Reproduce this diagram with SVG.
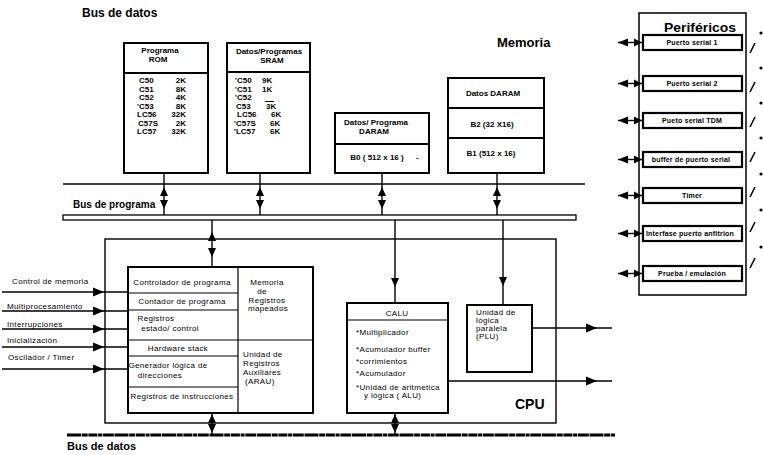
<svg xmlns="http://www.w3.org/2000/svg" width="763" height="455" viewBox="0 0 763 455">
<style>
text { font-family: "Liberation Sans", Arial, sans-serif; fill: #000; }
.h { font-weight: bold; font-size: 12px; }
.m { font-weight: bold; font-size: 8px; }
.s { font-size: 8px; letter-spacing: 0.35px; }
.p { font-weight: bold; font-size: 7px; letter-spacing: 0.2px; }
.c { text-anchor: middle; }
.e { text-anchor: end; }
.box { fill: #fff; stroke: #000; stroke-width: 2; }
.pbox { fill: #fff; stroke: #000; stroke-width: 2.2; }
.frame { fill: none; stroke: #000; stroke-width: 1.4; }
.ln { stroke: #000; stroke-width: 1.4; fill: none; }
.sep { stroke: #000; stroke-width: 1.2; fill: none; }
.hd { fill: #000; }
</style>
<defs>
  <path id="up" d="M0,0 L-4,9 L4,9 Z"/>
  <path id="dn" d="M0,0 L-4,-9 L4,-9 Z"/>
  <path id="rt" d="M0,0 L-11,-4.5 L-11,4.5 Z"/>
  <path id="lt" d="M0,0 L10,-4 L10,4 Z"/>
  <path id="rts" d="M0,0 L-8,-4 L-8,4 Z"/>
</defs>
<rect x="0" y="0" width="763" height="455" fill="#fff"/>

<!-- titles -->
<text class="h" x="82" y="17">Bus de datos</text>
<text class="h" x="497" y="47" style="font-size:13px">Memoria</text>
<text x="73" y="208" style="font-weight:bold;font-size:10px">Bus de programa</text>
<text x="515" y="409" style="font-weight:bold;font-size:14px">CPU</text>
<text x="67" y="450" style="font-weight:bold;font-size:11px">Bus de datos</text>

<!-- buses -->
<g id="buses">
  <line class="ln" x1="63" y1="184" x2="585" y2="184" style="stroke-width:1.6"/>
  <rect x="63" y="215" width="513" height="5" fill="#fff" stroke="#000" stroke-width="1.3"/>
  <line x1="67" y1="435" x2="615" y2="435" stroke="#000" stroke-width="3.2" stroke-dasharray="14 0.7 6 0.7 9 0.7 4 0.7 11 0.7"/>
</g>

<!-- ROM -->
<g id="rom">
  <rect class="box" x="124" y="43" width="84" height="130"/>
  <line class="ln" x1="124" y1="73" x2="208" y2="73" style="stroke-width:2"/>
  <text class="m c" x="160" y="53">Programa</text>
  <text class="m c" x="158" y="62">ROM</text>
  <text class="m" x="139" y="83">C50</text><text class="m e" x="186" y="83">2K</text>
  <text class="m" x="139" y="91.5">C51</text><text class="m e" x="186" y="91.5">8K</text>
  <text class="m" x="139" y="100">C52</text><text class="m e" x="186" y="100">4K</text>
  <text class="m" x="137" y="108.5">'C53</text><text class="m e" x="186" y="108.5">8K</text>
  <text class="m" x="137" y="117">LC56</text><text class="m e" x="186" y="117">32K</text>
  <text class="m" x="138" y="125.5">C57S</text><text class="m e" x="186" y="125.5">2K</text>
  <text class="m" x="137" y="134">LC57</text><text class="m e" x="186" y="134">32K</text>
</g>

<!-- SRAM -->
<g id="sram">
  <rect class="box" x="227" y="43" width="83" height="130"/>
  <line class="ln" x1="227" y1="72" x2="310" y2="72" style="stroke-width:2"/>
  <text class="m c" x="269" y="54">Datos/Programas</text>
  <text class="m c" x="272" y="63">SRAM</text>
  <text class="m" x="235" y="83">'C50</text><text class="m" x="262" y="83">9K</text>
  <text class="m" x="235" y="91.5">'C51</text><text class="m" x="262" y="91.5">1K</text>
  <text class="m" x="235" y="100">'C52</text>
  <text class="m" x="236" y="108.5">C53</text><text class="m" x="266" y="108.5">3K</text>
  <line x1="265" y1="101.5" x2="274" y2="101.5" stroke="#000" stroke-width="1"/>
  <text class="m" x="237" y="117">LC56</text><text class="m" x="271" y="117">6K</text>
  <text class="m" x="234" y="125.5">'C57S</text><text class="m" x="270" y="125.5">6K</text>
  <text class="m" x="234" y="134">'LC57</text><text class="m" x="270" y="134">6K</text>
</g>

<!-- DARAM B0 -->
<g id="daram-b0">
  <rect class="box" x="335" y="113" width="94" height="60"/>
  <line class="ln" x1="335" y1="144" x2="429" y2="144" style="stroke-width:2"/>
  <text class="m c" x="376" y="125">Datos/ Programa</text>
  <text class="m c" x="374" y="134">DARAM</text>
  <text class="m c" x="377" y="160">B0 ( 512 x 16 )</text>
  <text class="m" x="416" y="160">-</text>
</g>

<!-- DARAM B1/B2 -->
<g id="daram-b1">
  <rect class="box" x="448" y="78" width="96" height="95"/>
  <line class="ln" x1="448" y1="108" x2="544" y2="108" style="stroke-width:2"/>
  <line class="ln" x1="448" y1="138" x2="544" y2="138" style="stroke-width:2"/>
  <text class="m c" x="493" y="96">Datos DARAM</text>
  <text class="m c" x="492" y="127">B2 (32 X16)</text>
  <text class="m c" x="491" y="156">B1 (512 x 16)</text>
</g>

<!-- Peripherals -->
<g id="perifericos">
  <rect x="639" y="13" width="107" height="282" fill="#fff" stroke="#000" stroke-width="1.5"/>
  <text x="664" y="32" textLength="72" lengthAdjust="spacingAndGlyphs" style="font-weight:bold;font-size:12.5px">Periféricos</text>
</g>
<g id="p-serial1"><rect class="pbox" x="643" y="35" width="99" height="15"/><text class="p c" x="692" y="45">Puerto serial 1</text></g>
<g id="p-serial2"><rect class="pbox" x="643" y="76" width="99" height="15"/><text class="p c" x="692" y="86">Puerto serial 2</text></g>
<g id="p-tdm"><rect class="pbox" x="643" y="113" width="99" height="15"/><text class="p c" x="692" y="123">Pueto serial TDM</text></g>
<g id="p-buffer"><rect class="pbox" x="643" y="152" width="99" height="15"/><text class="p c" x="691" y="162">buffer de puerto serial</text></g>
<g id="p-timer"><rect class="pbox" x="643" y="188" width="99" height="15"/><text class="p c" x="692" y="198">Timer</text></g>
<g id="p-host"><rect class="pbox" x="643" y="226" width="99" height="15"/><text class="p c" x="690" y="236">Interfase puerto anfitrion</text></g>
<g id="p-test"><rect class="pbox" x="643" y="266" width="99" height="15"/><text class="p c" x="692" y="276">Prueba / emulación</text></g>

<!-- marks at the right edge -->
<g id="edge-marks" stroke="#000" stroke-width="1.5" fill="#000">
  <line x1="750" y1="53" x2="755" y2="43"/><circle cx="761" cy="33" r="1.6" stroke="none"/>
  <line x1="750" y1="92" x2="755" y2="82"/><circle cx="761" cy="68" r="1.6" stroke="none"/>
  <line x1="750" y1="127" x2="755" y2="117"/><circle cx="761" cy="103" r="1.6" stroke="none"/>
  <line x1="750" y1="162" x2="755" y2="152"/><circle cx="761" cy="138" r="1.6" stroke="none"/>
  <line x1="750" y1="197" x2="755" y2="187"/><circle cx="761" cy="174" r="1.6" stroke="none"/>
  <line x1="750" y1="232" x2="755" y2="222"/><circle cx="761" cy="210" r="1.6" stroke="none"/>
  <line x1="750" y1="268" x2="755" y2="258"/><circle cx="761" cy="247" r="1.6" stroke="none"/>
</g>

<!-- CPU frame -->
<g id="cpu">
  <rect class="frame" x="105" y="239" width="451" height="184"/>
</g>

<!-- Control block -->
<g id="control">
  <rect class="box" x="128" y="267" width="185" height="146"/>
  <line class="sep" x1="238" y1="267" x2="238" y2="413"/>
  <line class="sep" x1="128" y1="293" x2="238" y2="293"/>
  <line class="sep" x1="128" y1="310" x2="238" y2="310"/>
  <line class="sep" x1="128" y1="340" x2="313" y2="340"/>
  <line class="sep" x1="128" y1="356" x2="238" y2="356"/>
  <line class="sep" x1="128" y1="387" x2="238" y2="387"/>
  <text class="s c" x="182" y="284.5">Controlador de programa</text>
  <text class="s c" x="182" y="304">Contador de programa</text>
  <text class="s c" x="156" y="321">Registros</text>
  <text class="s c" x="170" y="331">estado/ control</text>
  <text class="s c" x="178" y="350.5">Hardware stack</text>
  <text class="s c" x="168" y="368">Generador lógica de</text>
  <text class="s c" x="160" y="378">direcciones</text>
  <text class="s c" x="182" y="399">Registros de instrucciones</text>
  <text class="s c" x="267" y="285">Memoria</text>
  <text class="s c" x="262" y="294">de</text>
  <text class="s c" x="267" y="303">Registros</text>
  <text class="s c" x="268" y="311">mapeados</text>
  <text class="s" x="243" y="357">Unidad de</text>
  <text class="s" x="243" y="366">Registros</text>
  <text class="s" x="243" y="375">Auxiliares</text>
  <text class="s" x="245" y="384">(ARAU)</text>
</g>

<!-- CALU -->
<g id="calu">
  <rect class="box" x="347" y="303" width="101" height="110"/>
  <line class="sep" x1="347" y1="320" x2="448" y2="320"/>
  <text class="s c" x="397" y="315.5">CALU</text>
  <text class="s" x="356" y="334.5">*Multiplicador</text>
  <text class="s" x="356" y="351.5">*Acumulador buffer</text>
  <text class="s" x="356" y="363.5">*corrimientos</text>
  <text class="s" x="356" y="375.5">*Acumulador</text>
  <text class="s" x="356" y="389.5">*Unidad de aritmetica</text>
  <text class="s" x="364" y="397.5">y lógica ( ALU)</text>
</g>

<!-- PLU -->
<g id="plu">
  <rect class="box" x="467" y="305" width="65" height="67"/>
  <text class="s" x="476" y="315">Unidad de</text>
  <text class="s" x="476" y="323">lógica</text>
  <text class="s" x="476" y="331">paralela</text>
  <text class="s" x="476" y="339">(PLU)</text>
</g>

<!-- input labels -->
<g id="inputs">
  <text class="s" x="12" y="284">Control de memoria</text>
  <text class="s" x="7" y="309">Multiprocesamiento</text>
  <text class="s" x="7" y="327">Interrupciones</text>
  <text class="s" x="7" y="343">Inicialización</text>
  <text class="s" x="8" y="360">Oscilador / Timer</text>
</g>

<!-- connectors -->
<g id="connectors" class="hd">
  <!-- memory to buses -->
  <line class="ln" x1="164" y1="173" x2="164" y2="215"/><use href="#up" x="164" y="187"/><use href="#dn" x="164" y="209"/>
  <line class="ln" x1="260" y1="173" x2="260" y2="215"/><use href="#up" x="260" y="187"/><use href="#dn" x="260" y="209"/>
  <line class="ln" x1="382" y1="173" x2="382" y2="215"/><use href="#up" x="382" y="187"/><use href="#dn" x="382" y="209"/>
  <line class="ln" x1="497" y1="173" x2="497" y2="215"/><use href="#up" x="497" y="187"/><use href="#dn" x="497" y="209"/>
  <!-- bus to CPU -->
  <line class="ln" x1="212" y1="220" x2="212" y2="267"/><use href="#up" x="212" y="232"/><use href="#dn" x="212" y="257"/>
  <line class="ln" x1="395" y1="220" x2="395" y2="303"/><use href="#dn" x="395" y="287"/>
  <line class="ln" x1="503" y1="220" x2="503" y2="305"/><use href="#dn" x="503" y="286"/>
  <!-- CPU to bottom data bus -->
  <line class="ln" x1="212" y1="413" x2="212" y2="434"/><use href="#up" x="212" y="414"/><use href="#dn" x="212" y="433"/>
  <line class="ln" x1="395" y1="413" x2="395" y2="434"/><use href="#up" x="395" y="414"/><use href="#dn" x="395" y="433"/>
  <!-- outputs -->
  <line class="ln" x1="532" y1="328" x2="612" y2="328"/><use href="#rt" x="597" y="328"/>
  <line class="ln" x1="448" y1="381" x2="612" y2="381"/><use href="#rt" x="597" y="381"/>
  <!-- inputs -->
  <line class="ln" x1="2" y1="292" x2="128" y2="292"/><use href="#rt" x="104" y="292"/>
  <line class="ln" x1="2" y1="311" x2="128" y2="311"/><use href="#rt" x="104" y="311"/>
  <line class="ln" x1="2" y1="329" x2="128" y2="329"/><use href="#rt" x="104" y="329"/>
  <line class="ln" x1="2" y1="347" x2="128" y2="347"/><use href="#rt" x="104" y="347"/>
  <line class="ln" x1="2" y1="369" x2="128" y2="369"/><use href="#rt" x="104" y="369"/>
  <!-- peripherals -->
  <line class="ln" x1="618" y1="42.5" x2="643" y2="42.5"/><use href="#lt" x="618" y="42.5"/><use href="#rts" x="642" y="42.5"/>
  <line class="ln" x1="618" y1="83.5" x2="643" y2="83.5"/><use href="#lt" x="618" y="83.5"/><use href="#rts" x="642" y="83.5"/>
  <line class="ln" x1="618" y1="120.5" x2="643" y2="120.5"/><use href="#lt" x="618" y="120.5"/><use href="#rts" x="642" y="120.5"/>
  <line class="ln" x1="618" y1="159.5" x2="643" y2="159.5"/><use href="#lt" x="618" y="159.5"/><use href="#rts" x="642" y="159.5"/>
  <line class="ln" x1="618" y1="195.5" x2="643" y2="195.5"/><use href="#lt" x="618" y="195.5"/><use href="#rts" x="642" y="195.5"/>
  <line class="ln" x1="618" y1="233.5" x2="643" y2="233.5"/><use href="#lt" x="618" y="233.5"/><use href="#rts" x="642" y="233.5"/>
  <line class="ln" x1="618" y1="273.5" x2="643" y2="273.5"/><use href="#lt" x="618" y="273.5"/><use href="#rts" x="642" y="273.5"/>
</g>
</svg>
